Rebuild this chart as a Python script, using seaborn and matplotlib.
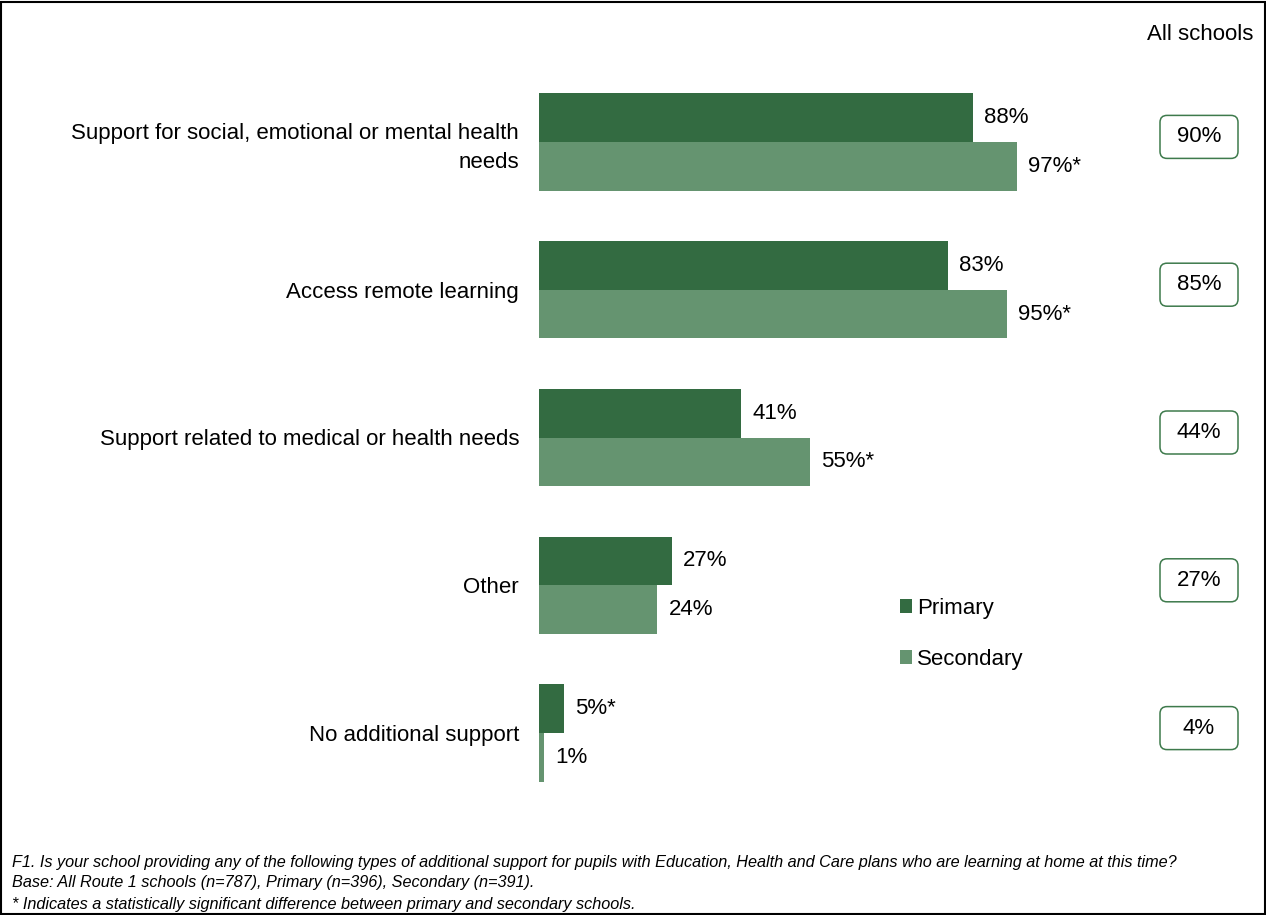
import matplotlib
matplotlib.use("Agg")
import matplotlib.pyplot as plt
import seaborn as sns
import pandas as pd
from matplotlib.patches import Rectangle, FancyBboxPatch
from matplotlib.transforms import IdentityTransform

categories = [
    "Support for social, emotional or mental health\nneeds",
    "Access remote learning",
    "Support related to medical or health needs",
    "Other",
    "No additional support",
]
primary = [88, 83, 41, 27, 5]
secondary = [97, 95, 55, 24, 1]
primary_sig = ["", "", "", "", "*"]
secondary_sig = ["*", "*", "*", "", ""]
all_schools = [90, 85, 44, 27, 4]
series = ["Primary", "Secondary"]
colors = ["#336B41", "#659470"]

sns.set_theme(style="white")
plt.rcParams["font.family"] = ["Liberation Sans", "DejaVu Sans"]
plt.rcParams["text.color"] = "black"
plt.rcParams["axes.labelcolor"] = "black"
FS = 16

df = pd.DataFrame({
    "category": categories * 2,
    "value": primary + secondary,
    "series": [series[0]] * len(categories) + [series[1]] * len(categories),
})

fig = plt.figure(figsize=(12.66, 9.15), dpi=100)
W, H = 1266, 915
left_px, right_px = 539, 1100
top_px, bottom_px = 68, 807
ax = fig.add_axes([left_px / W, 1 - bottom_px / H, (right_px - left_px) / W, (bottom_px - top_px) / H])

sns.barplot(data=df, x="value", y="category", hue="series", hue_order=series,
            palette=colors, saturation=1, orient="h", width=0.66, linewidth=0, ax=ax,
            errorbar=None, legend=True)

ax.set_xlim(0, (right_px - left_px) / 4.93)
ax.set_ylim(4.5, -0.5)
for s in ax.spines.values():
    s.set_visible(False)
ax.set_xticks([])
ax.set_xlabel("")
ax.set_ylabel("")
ax.tick_params(axis="y", length=0, pad=14.4, labelsize=FS, labelcolor="black")
for lbl in ax.get_yticklabels():
    lbl.set_horizontalalignment("right")
    lbl.set_multialignment("right")
    lbl.set_linespacing(1.5)
    lbl.set_color("black")

sigs = [primary_sig, secondary_sig]
vals = [primary, secondary]
for cont, v, sg in zip(ax.containers, vals, sigs):
    ax.bar_label(cont, labels=[f"{a}%{b}" for a, b in zip(v, sg)], padding=8,
                 fontsize=FS, color="black")

# legend
handles, labels = ax.get_legend_handles_labels()
ax.legend_.remove()
fig.legend(handles, labels, loc="upper left", bbox_to_anchor=(900 / W, 1 - 598 / H),
           frameon=False, fontsize=FS, handlelength=0.55, handleheight=0.55,
           handletextpad=0.2, labelspacing=1.34, borderaxespad=0, borderpad=0,
           labelcolor="black")

# All schools column
fig.text(1253 / W, 1 - 35 / H, "All schools", ha="right", va="center", fontsize=FS,
         color="black")
box_w, box_h = 78, 43
cx = 1199
for i, v in enumerate(all_schools):
    cy = ax.transData.transform((0, i))[1] + 5
    fig.patches.append(FancyBboxPatch((cx - box_w / 2, cy - box_h / 2), box_w, box_h,
                                      boxstyle="round,pad=0,rounding_size=7",
                                      transform=IdentityTransform(), fc="white",
                                      ec="#3E7A4C", lw=1.1))
    fig.text(cx / W, cy / H, f"{v}%", ha="center", va="center", fontsize=FS,
             color="black")

# footnotes
notes = [
    "F1. Is your school providing any of the following types of additional support for pupils with Education, Health and Care plans who are learning at home at this time?",
    "Base: All Route 1 schools (n=787), Primary (n=396), Secondary (n=391).",
    "* Indicates a statistically significant difference between primary and secondary schools.",
]
for j, t in enumerate(notes):
    fig.text(12 / W, 1 - (862 + 21 * j) / H, t, ha="left", va="center",
             fontsize=11.7, style="italic", color="black")

fig.patches.append(Rectangle((0.001, 0.001), 0.998, 0.997, transform=fig.transFigure,
                             fill=False, ec="black", lw=1.5))

fig.savefig("out.png", dpi=100)
